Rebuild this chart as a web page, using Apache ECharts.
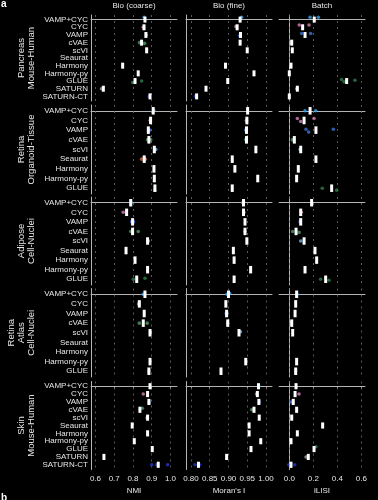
<!DOCTYPE html>
<html><head><meta charset="utf-8">
<script src="https://cdn.jsdelivr.net/npm/echarts@6/dist/echarts.min.js"></script>
<style>html,body{margin:0;padding:0;background:#000;}#c{width:378px;height:500px;}</style>
</head><body><div id="c"></div>
<script>
// ---- categories ----
const methods11 = ['VAMP+CYC','CYC','VAMP','cVAE','scVI','Seaurat','Harmony','Harmony-py','GLUE','SATURN','SATURN-CT'];
const methods9 = ['VAMP+CYC','CYC','VAMP','cVAE','scVI','Seaurat','Harmony','Harmony-py','GLUE'];
const methodColors = ['#39a3ea','#d77fb4','#3c72d4','#4f9a68','#63b4e6','#c4673f','#ffffff','#ffffff','#2f7d4e','#9a9a9a','#2438c8'];
const colTitles = ['Bio (coarse)','Bio (fine)','Batch'];
const axisNames = ['NMI',"Moran's I",'iLISI'];
const nmiTicks = [0.6,0.7,0.8,0.9,1.0];
const moranTicks = [0.80,0.85,0.90,0.95,1.00];
const ilisiTicks = [0.0,0.2,0.4,0.6];
const rowLabels = ['Pancreas\nMouse-Human','Retina\nOrganoid-Tissue','Adipose\nCell-Nuclei','Retina\nAtlas\nCell-Nuclei','Skin\nMouse-Human'];

// ---- medians (box centres) per method ----
const pancreasNMI   = [0.864,0.859,0.869,0.846,0.873,null,0.745,0.828,0.811,0.642,0.891];
const pancreasMoran = [0.931,0.923,0.932,0.931,0.950,null,0.892,0.968,0.898,0.840,0.815];
const pancreasILISI = [0.208,0.111,0.131,0.020,0.025,null,0.014,0.000,0.478,0.067,0.000];
const organoidNMI   = [0.908,0.894,0.882,0.885,0.914,0.860,0.912,0.914,0.917];
const organoidMoran = [0.951,0.949,0.948,0.948,0.973,0.910,0.917,0.978,0.910];
const organoidILISI = [0.173,0.123,0.222,0.042,0.095,0.222,0.075,0.061,0.353];
const adiposeNMI    = [0.788,0.766,0.798,0.798,0.878,0.763,0.811,0.878,0.820];
const adiposeMoran  = [0.940,0.940,0.944,0.944,0.949,0.913,0.915,0.959,0.915];
const adiposeILISI  = [0.186,0.095,0.095,0.056,0.123,0.214,0.228,0.131,0.303];
const atlasNMI      = [0.864,0.834,0.860,0.855,0.891,null,null,0.891,0.885];
const atlasMoran    = [0.900,0.893,0.895,0.898,0.928,null,null,0.946,0.880];
const atlasILISI    = [0.061,0.053,0.048,0.020,0.028,null,null,0.061,0.053];
const skinNMI       = [0.891,0.878,0.885,0.837,0.878,0.796,0.878,0.807,0.903,0.645,0.935];
const skinMoran     = [0.980,0.977,0.981,0.968,0.982,0.955,0.955,0.986,0.960,0.895,0.820];
const skinILISI     = [0.056,0.048,0.033,0.061,0.020,0.278,0.067,0.014,0.206,0.158,0.014];

// ---- individual points: [methodIndex, value, vertical offset in category units] ----
const pancreasNMIDots   = [[0,0.860,-0.3],[1,0.855,0],[2,0.872,0],[3,0.835,0],[3,0.862,0.1],[8,0.798,0.2],[8,0.846,0],[9,0.632,0],[10,0.887,0]];
const pancreasMoranDots = [[0,0.935,-0.3],[1,0.920,-0.1],[2,0.930,0.1],[10,0.812,0]];
const pancreasILISIDots = [[0,0.173,-0.3],[0,0.242,-0.3],[1,0.083,-0.3],[1,0.164,-0.3],[2,0.103,-0.2],[2,0.178,-0.2],[3,0.017,0.1],[8,0.436,-0.2],[8,0.456,0.1],[8,0.547,-0.1],[9,0.062,0]];
const organoidNMIDots   = [[0,0.912,0],[1,0.892,0],[2,0.890,0],[3,0.878,0],[3,0.895,0],[4,0.922,0],[5,0.846,0],[5,0.866,0],[8,0.917,0.2]];
const organoidMoranDots = [[1,0.948,0],[2,0.946,0],[3,0.946,0]];
const organoidILISIDots = [[0,0.131,0],[0,0.220,0],[1,0.067,-0.2],[1,0.095,0.1],[1,0.206,-0.2],[2,0.139,-0.1],[2,0.161,0.2],[2,0.367,-0.1],[3,0.025,0],[4,0.090,0],[8,0.275,0],[8,0.395,0.2]];
const adiposeNMIDots    = [[0,0.790,0],[1,0.748,0],[2,0.793,0],[2,0.803,0],[3,0.788,0],[3,0.828,0],[4,0.882,0],[8,0.802,0],[8,0.864,-0.1]];
const adiposeMoranDots  = [[0,0.938,0],[1,0.941,0],[3,0.944,0]];
const adiposeILISIDots  = [[1,0.100,0],[2,0.090,0],[3,0.028,0],[3,0.081,0.1],[4,0.095,0],[8,0.261,0],[8,0.331,0.1]];
const atlasNMIDots      = [[0,0.855,0],[1,0.830,0],[3,0.834,0],[3,0.876,0],[4,0.893,0],[8,0.885,0]];
const atlasMoranDots    = [[0,0.896,0],[0,0.903,-0.1],[2,0.894,0],[3,0.898,0],[4,0.932,-0.1]];
const atlasILISIDots    = [[0,0.065,0],[3,0.015,0],[8,0.053,0]];
const skinNMIDots       = [[0,0.893,0],[1,0.855,0],[2,0.887,0],[3,0.850,-0.2],[4,0.876,0],[10,0.900,0],[10,0.926,0],[10,0.985,0]];
const skinMoranDots     = [[0,0.981,0],[1,0.975,0],[2,0.982,0],[3,0.962,0],[10,0.811,0],[10,0.823,0]];
const skinILISIDots     = [[1,0.081,0],[2,0.014,0],[8,0.222,-0.3],[9,0.139,0],[10,-0.005,0],[10,0.045,0]];

// ---- layout ----
const FONT = 'Liberation Sans, Arial, sans-serif';
const TXT = '#e6e6e6';
const AX = '#b4b4b4';
const GRIDC = '#707070';
const cols = [
  {left:91, width:86, min:0.576, max:1.035, ticks:nmiTicks, dp:1},
  {left:186, width:86, min:0.7867, max:1.016, ticks:moranTicks, dp:2},
  {left:279, width:86, min:-0.086, max:0.631, ticks:ilisiTicks, dp:1}
];
const rows = [
  {top:15, bottom:101, methods:methods11, lx:26.7, panels:[[pancreasNMI,pancreasNMIDots],[pancreasMoran,pancreasMoranDots],[pancreasILISI,pancreasILISIDots]]},
  {top:105, bottom:194, methods:methods9, lx:26.7, panels:[[organoidNMI,organoidNMIDots],[organoidMoran,organoidMoranDots],[organoidILISI,organoidILISIDots]]},
  {top:197, bottom:285, methods:methods9, lx:26.5, panels:[[adiposeNMI,adiposeNMIDots],[adiposeMoran,adiposeMoranDots],[adiposeILISI,adiposeILISIDots]]},
  {top:288.5, bottom:377, methods:methods9, lx:21.5, panels:[[atlasNMI,atlasNMIDots],[atlasMoran,atlasMoranDots],[atlasILISI,atlasILISIDots]]},
  {top:381.5, bottom:469.5, methods:methods11, lx:26.7, panels:[[skinNMI,skinNMIDots],[skinMoran,skinMoranDots],[skinILISI,skinILISIDots]]}
];
const PAD = 0.6;

const grid = [], xAxis = [], yAxis = [], series = [];
rows.forEach((row, r) => {
  const n = row.methods.length;
  cols.forEach((col, c) => {
    const g = grid.length;
    const last = r === rows.length - 1;
    grid.push({left: col.left, top: row.top, width: col.width, height: row.bottom - row.top});
    xAxis.push({
      type:'value', gridIndex:g, min:col.min, max:col.max,
      axisLine:{show:true, lineStyle:{color:AX, width:1}},
      axisTick:{show:last, length:2, customValues:col.ticks, lineStyle:{color:AX}},
      axisLabel:{show:last, customValues:col.ticks, formatter:v => v.toFixed(col.dp), color:TXT, fontSize:8, fontFamily:FONT, margin:5, showMinLabel:true, showMaxLabel:true, hideOverlap:false},
      splitLine:{show:false},
      name: last ? axisNames[c] : '', nameLocation:'middle', nameGap:17,
      nameTextStyle:{color:TXT, fontSize:8, fontFamily:FONT}
    });
    const evenIdx = row.methods.map((m, i) => i).filter(i => i % 2 === 0);
    const oddIdx = row.methods.map((m, i) => i).filter(i => i % 2 === 1);
    const labelStyle = {color:TXT, fontSize:8, fontFamily:FONT, margin:3, showMinLabel:true, showMaxLabel:true, hideOverlap:false,
      formatter:v => row.methods[Math.round(v)]};
    const yMain = yAxis.length;
    yAxis.push({
      type:'value', gridIndex:g, inverse:true, min:-PAD, max:n - 1 + PAD,
      axisLine:{show:true, lineStyle:{color:AX, width:1}},
      axisTick:{show:false},
      axisLabel:Object.assign({show:c === 0, customValues:evenIdx}, labelStyle),
      splitLine:{show:false}
    });
    if (c === 0) {
      // second label layer so tightly packed method names are never dropped
      yAxis.push({
        type:'value', gridIndex:g, inverse:true, min:-PAD, max:n - 1 + PAD, position:'left',
        axisLine:{show:false}, axisTick:{show:false},
        axisLabel:Object.assign({show:true, customValues:oddIdx}, labelStyle),
        splitLine:{show:false}
      });
    }
    const [med, dots] = row.panels[c];
    series.push({
      type:'scatter', xAxisIndex:g, yAxisIndex:yMain, z:3, symbolSize:3.6, silent:true, animation:false,
      data: dots.map(d => ({value:[d[1], d[0] + d[2]], itemStyle:{color:methodColors[d[0]]}})),
      markLine:{z:1, silent:true, symbol:['none','none'], animation:false, label:{show:false},
        lineStyle:{type:[2,4], color:GRIDC, width:0.8},
        data: col.ticks.map(t => ({xAxis:t}))}
    });
    series.push({
      type:'custom', xAxisIndex:g, yAxisIndex:yMain, z:4, silent:true, animation:false,
      data: med.map((v, i) => v === null ? null : [v, i]).filter(d => d),
      renderItem:(params, api) => {
        const p = api.coord([api.value(0), api.value(1)]);
        const h = Math.abs(api.size([0, 1])[1]) * 0.78;
        return {type:'rect', shape:{x:p[0] - 1.5, y:p[1] - h / 2, width:3, height:h}, style:{fill:'#ffffff'}};
      }
    });
  });
});

const graphic = [
  {type:'text', x:1, y:-1, style:{text:'a', fill:'#ffffff', fontSize:10, fontWeight:'bold', fontFamily:FONT}},
  {type:'text', x:1, y:493, style:{text:'b', fill:'#ffffff', fontSize:10, fontWeight:'bold', fontFamily:FONT}}
];
cols.forEach((col, c) => {
  graphic.push({type:'text', x:col.left + col.width / 2, y:6,
    style:{text:colTitles[c], fill:TXT, fontSize:8, fontFamily:FONT, align:'center', verticalAlign:'middle'}});
});
rows.forEach((row, r) => {
  graphic.push({type:'text', x:row.lx, y:(row.top + row.bottom) / 2, rotation:Math.PI / 2,
    style:{text:rowLabels[r], fill:TXT, fontSize:9.5, lineHeight:10, fontFamily:FONT, align:'center', verticalAlign:'middle'}});
});

const chart = echarts.init(document.getElementById('c'));
chart.setOption({backgroundColor:'#000', animation:false, grid, xAxis, yAxis, series, graphic});
</script></body></html>
